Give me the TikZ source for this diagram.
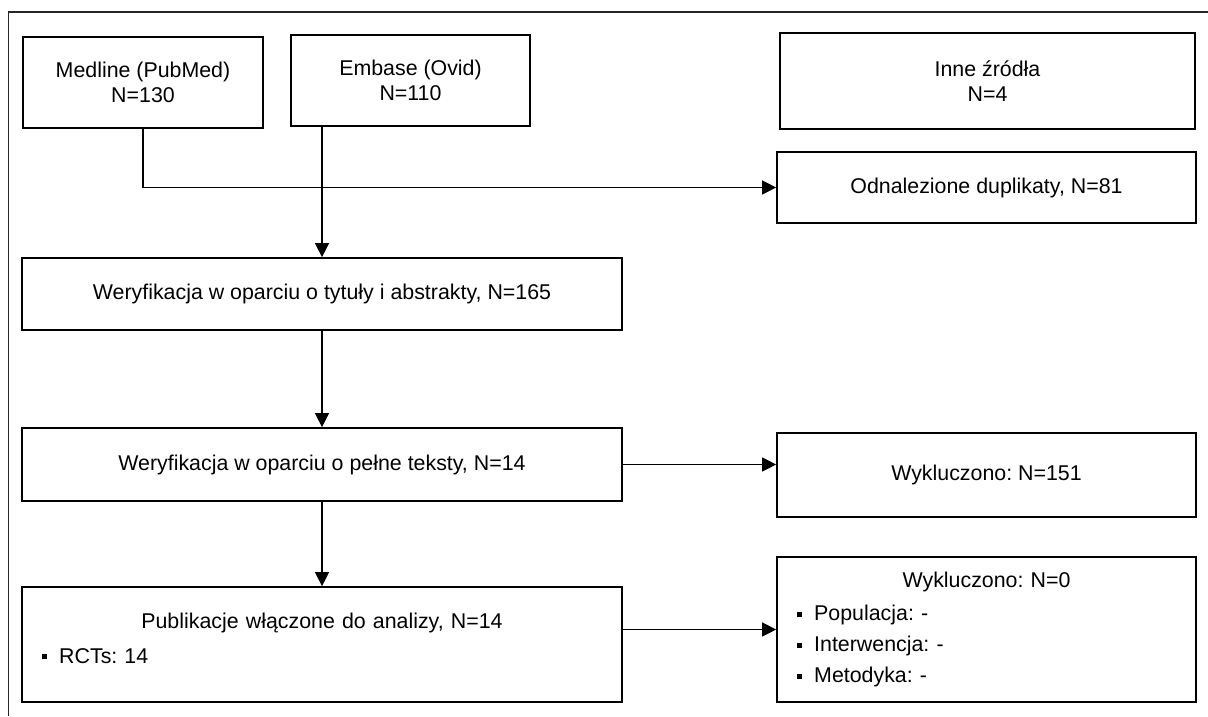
\documentclass[tikz,border=0pt]{standalone}
\usepackage{fontspec}
\setmainfont{Liberation Sans}
\usetikzlibrary{arrows.meta}
\frenchspacing

% small square bullet for the lists
\newcommand{\sqitem}[1]{\hspace*{0.5cm}\rule[0.1cm]{0.13cm}{0.13cm}\hspace{0.3cm}#1}

\begin{document}
\begin{tikzpicture}[
  box/.style={rectangle, draw, line width=1.2pt, inner sep=0pt, align=center,
    font=\fontsize{15.2pt}{18pt}\selectfont},
  listbox/.style={box, align=left},
  conn/.style={line width=0.8pt},
  arr/.style={conn, -{Triangle[length=3.5mm,width=3.5mm]}}
]
\useasboundingbox (0,0) rectangle (30.2,-17.9);
\draw[line width=0.9pt, black!85] (0.2125,-17.9) |- (30.2,-0.3);

% sources
\node[box, minimum width=6cm, minimum height=2.275cm] (med) at (3.575,-2.0625) {Medline (PubMed)\\N=130};
\node[box, minimum width=5.975cm, minimum height=2.275cm] (emb) at (10.2625,-2.0125) {Embase (Ovid)\\N=110};
\node[box, minimum width=10.375cm, minimum height=2.4cm] (inne) at (24.6875,-2.025) {Inne źródła\\N=4};

% right column
\node[box, minimum width=10.475cm, minimum height=1.775cm] (dup) at (24.6625,-4.6875) {Odnalezione duplikaty, N=81};
\node[box, minimum width=10.475cm, minimum height=2.1cm] (wyk1) at (24.6625,-11.875) {Wykluczono: N=151};
\node[listbox, text width=10.475cm, minimum height=3.625cm] (wyk0) at (24.6625,-15.7375)
  {\centering Wykluczono: N=0\par\vspace{6pt}\raggedright
   \sqitem{Populacja: -}\par\vspace{4pt}
   \sqitem{Interwencja: -}\par\vspace{4pt}
   \sqitem{Metodyka: -}};

% main column
\node[box, minimum width=15cm, minimum height=1.8cm] (ver1) at (8.05,-7.35) {Weryfikacja w oparciu o tytuły i abstrakty, N=165};
\node[box, minimum width=15cm, minimum height=1.825cm] (ver2) at (8.05,-11.6125) {Weryfikacja w oparciu o pełne teksty, N=14};
\node[listbox, text width=15cm, minimum height=2.875cm] (pub) at (8.05,-16.1125)
  {\centering Publikacje włączone do analizy, N=14\par\vspace{7pt}\raggedright
   \sqitem{RCTs: 14}\rule[-9pt]{0pt}{9pt}};

% connectors
\draw[arr] (med.south) |- (dup.west);
\draw[arr] (emb.south -| ver1.north) -- (ver1.north);
\draw[arr] (ver1.south) -- (ver2.north);
\draw[arr] (ver2.south) -- (pub.north);
\draw[arr] (ver2.east) -- (ver2.east -| wyk1.west);
\draw[arr] (wyk0.west -| pub.east) -- (wyk0.west);
\end{tikzpicture}
\end{document}
